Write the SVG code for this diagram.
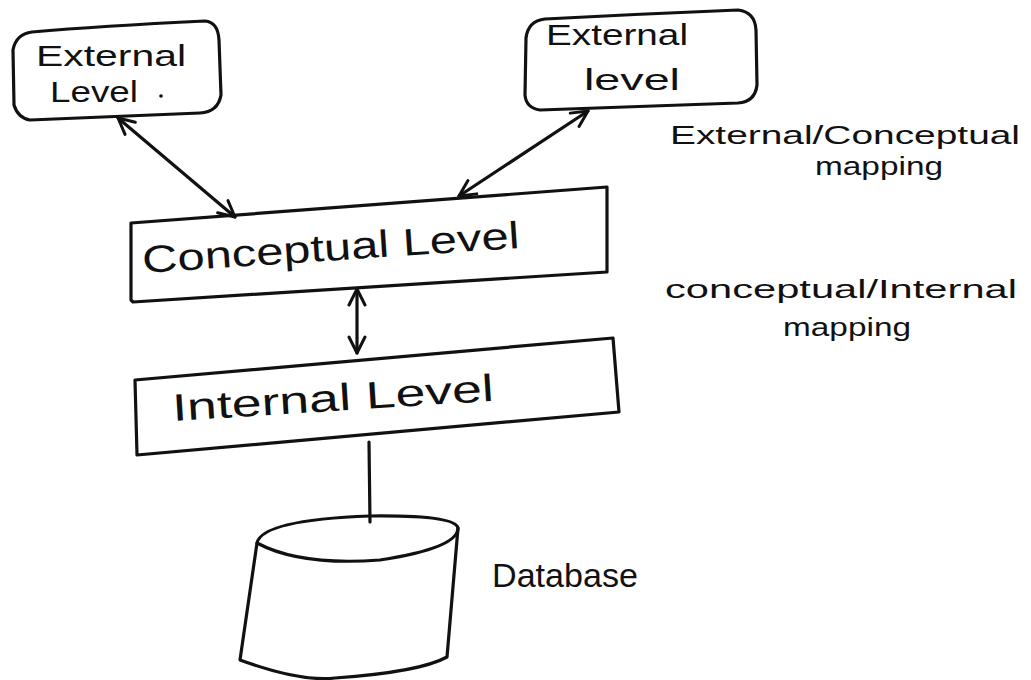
<svg xmlns="http://www.w3.org/2000/svg" width="1031" height="680" viewBox="0 0 1031 680">
  <style>
    .ink { fill: none; stroke: #111; stroke-width: 3.2; stroke-linecap: round; stroke-linejoin: round; }
    .lbl { font-family: "Liberation Sans", "DejaVu Sans", sans-serif; fill: #111; }
    .node-text { font-size: 30px; }
    .note { font-size: 26px; }
  </style>
  <defs>
    <marker id="open-head" viewBox="0 0 20 20" refX="18" refY="10" markerWidth="20" markerHeight="20" markerUnits="userSpaceOnUse" orient="auto-start-reverse">
      <polyline points="2,2 18,10 2,18" fill="none" stroke="#111" stroke-width="3" stroke-linecap="round" stroke-linejoin="round"/>
    </marker>
  </defs>

  <rect width="1031" height="680" fill="#fff"/>

  <!-- connectors -->
  <g id="connectors">
    <path class="ink" d="M118,118 L235,217" marker-start="url(#open-head)" marker-end="url(#open-head)"/>
    <path class="ink" d="M588,111 L459,196" marker-start="url(#open-head)" marker-end="url(#open-head)"/>
    <path class="ink" d="M357,289 L357,353" marker-start="url(#open-head)" marker-end="url(#open-head)"/>
    <path class="ink" d="M369,442 L370,522"/>
  </g>

  <!-- external level (left) -->
  <g id="external-left">
    <path class="ink" d="M32,32 Q100,26 205,21 Q218,22 219,40 L221,95 Q218,112 200,113 L30,120 Q18,118 14,105 L13,50 Q16,34 32,32 Z"/>
    <text class="lbl node-text" x="36" y="66" textLength="150" lengthAdjust="spacingAndGlyphs">External</text>
    <text class="lbl node-text" x="50" y="102" textLength="88" lengthAdjust="spacingAndGlyphs">Level</text>
    <circle cx="161" cy="96" r="1.8" fill="#111"/>
  </g>

  <!-- external level (right) -->
  <g id="external-right">
    <path class="ink" d="M545,19 Q640,14 738,10 Q755,12 756,30 L757,85 Q755,102 738,103 L540,110 Q526,108 525,95 L526,38 Q528,21 545,19 Z"/>
    <text class="lbl node-text" x="546" y="45" textLength="142" lengthAdjust="spacingAndGlyphs">External</text>
    <text class="lbl node-text" x="584" y="90" textLength="96" lengthAdjust="spacingAndGlyphs">level</text>
  </g>

  <!-- conceptual level -->
  <g id="conceptual">
    <path class="ink" d="M131,223 L607,187 L607,272 L133,302 L131,300 Z"/>
    <text class="lbl" font-size="38" x="143" y="273" transform="rotate(-3.8 143 273)" textLength="378" lengthAdjust="spacingAndGlyphs">Conceptual  Level</text>
  </g>

  <!-- internal level -->
  <g id="internal">
    <path class="ink" d="M135,380 L613,338 L619,412 L137,455 Z"/>
    <text class="lbl" font-size="38" x="173" y="421" transform="rotate(-3.6 173 421)" textLength="322" lengthAdjust="spacingAndGlyphs">Internal Level</text>
  </g>

  <!-- database -->
  <g id="database">
    <path class="ink" d="M257,543 Q262,520 370,516 Q455,515 458,528 Q458,548 380,560 Q300,566 257,543 Z"/>
    <path class="ink" d="M257,543 L240,660 Q300,682 335,678 Q420,672 447,657 L458,528"/>
    <text class="lbl" font-size="34" x="492" y="587" textLength="146" lengthAdjust="spacingAndGlyphs">Database</text>
  </g>

  <!-- mapping annotations -->
  <g id="mapping-labels">
    <text class="lbl note" x="670" y="144" textLength="350" lengthAdjust="spacingAndGlyphs">External/Conceptual</text>
    <text class="lbl note" x="815" y="175" textLength="128" lengthAdjust="spacingAndGlyphs">mapping</text>
    <text class="lbl note" x="665" y="298" textLength="352" lengthAdjust="spacingAndGlyphs">conceptual/Internal</text>
    <text class="lbl note" x="783" y="336" textLength="128" lengthAdjust="spacingAndGlyphs">mapping</text>
  </g>
</svg>
